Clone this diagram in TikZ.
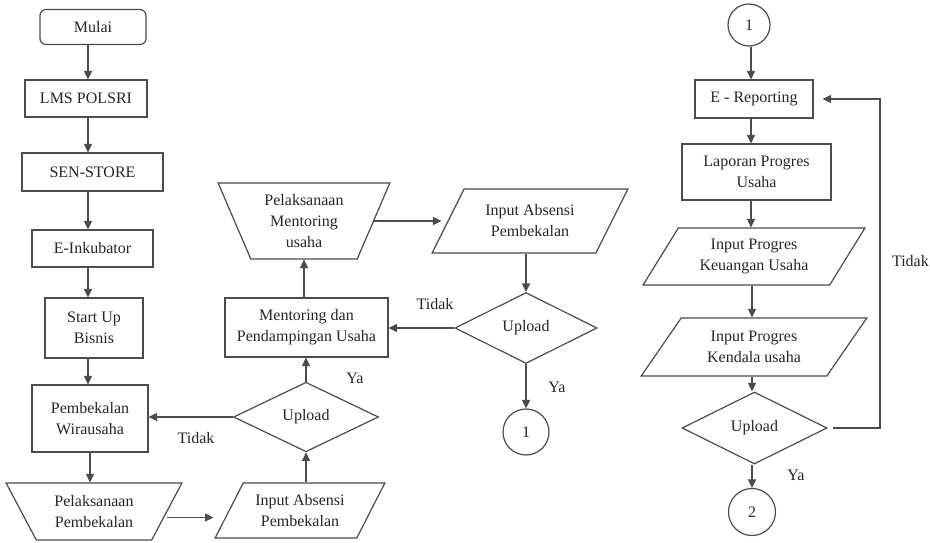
\documentclass[tikz,border=0pt]{standalone}
\usepackage{fontspec}
\setmainfont{Liberation Serif}
\usetikzlibrary{shapes.geometric,arrows.meta}
\begin{document}
\begin{tikzpicture}[x=1pt,y=-1pt,
 every node/.style={font=\fontsize{16}{21}\selectfont, text=black!85},
 base/.style={draw=black!70, line width=1.2pt, align=center, inner sep=2pt},
 box/.style={base, rectangle},
 trap/.style={base, trapezium, trapezium stretches=true},
 dia/.style={base, diamond},
 conn/.style={base, circle},
 arr/.style={draw=black!70, line width=1.2pt, -{Triangle[length=8.5pt,width=8pt]}}
]
\useasboundingbox[fill=white] (0,0) rectangle (930,543);

% left column
\node[box, rounded corners=6pt, minimum width=106pt, minimum height=35pt] (mulai) at (93,27) {Mulai};
\node[box, minimum width=122pt, minimum height=37pt] (lms) at (86,98.5) {LMS POLSRI};
\node[box, minimum width=141pt, minimum height=38pt] (sen) at (92.5,172) {SEN-STORE};
\node[box, minimum width=121pt, minimum height=37pt] (einc) at (92.5,248.5) {E-Inkubator};
\node[box, minimum width=98pt, minimum height=60pt] (startup) at (94,328) {Start Up\\Bisnis};
\node[box, minimum width=116pt, minimum height=67pt] (pemb) at (90,418.5) {Pembekalan\\Wirausaha};
\node[trap, trapezium left angle=121, trapezium right angle=121, minimum width=176pt, minimum height=57pt] (pelpemb) at (94,511.5) {Pelaksanaan\\Pembekalan};

% middle
\node[trap, trapezium left angle=57.5, trapezium right angle=122.5, minimum width=170pt, minimum height=55pt] (inpemb) at (300,510.5) {Input Absensi\\Pembekalan};
\node[dia, minimum width=145pt, minimum height=64pt] (updown) at (306,417) {Upload};
\node[box, minimum width=163pt, minimum height=59pt] (mentor) at (306.5,327.5) {Mentoring dan\\Pendampingan Usaha};
\node[trap, trapezium left angle=114, trapezium right angle=114, minimum width=172pt, minimum height=76pt] (pelment) at (304,221) {Pelaksanaan\\Mentoring\\usaha};
\node[trap, trapezium left angle=58, trapezium right angle=122, minimum width=196pt, minimum height=64pt] (inpup) at (530,221) {Input Absensi\\Pembekalan};
\node[dia, minimum width=142pt, minimum height=71pt] (upup) at (526,328) {Upload};
\node[conn, minimum size=46pt] (ca) at (526,432) {1};

% right column
\node[conn, minimum size=42pt] (cb) at (749,25) {1};
\node[box, minimum width=118pt, minimum height=38pt] (erep) at (754,99) {E - Reporting};
\node[box, minimum width=149pt, minimum height=56pt] (lap) at (756.5,172) {Laporan Progres\\Usaha};
\node[trap, trapezium left angle=56, trapezium right angle=124, minimum width=222pt, minimum height=57pt] (ink) at (754,256.5) {Input Progres\\Keuangan Usaha};
\node[trap, trapezium left angle=53, trapezium right angle=127, minimum width=226pt, minimum height=58pt] (ikk) at (754,347) {Input Progres\\Kendala usaha};
\node[dia, minimum width=145pt, minimum height=72pt] (updr) at (754.5,428) {Upload};
\node[conn, minimum size=47pt] (cc) at (752,512) {2};

% connectors left
\coordinate (colA) at (88,0);
\draw[arr] (mulai.south -| colA) -- (lms.north -| colA);
\draw[arr] (lms.south -| colA) -- (sen.north -| colA);
\draw[arr] (sen.south -| colA) -- (einc.north -| colA);
\draw[arr] (einc.south -| colA) -- (startup.north -| colA);
\draw[arr] (startup.south -| colA) -- (pemb.north -| colA);
\coordinate (colA2) at (90,0);
\draw[arr] (pemb.south -| colA2) -- (pelpemb.north -| colA2);
\draw[arr, shorten >=15pt] ([yshift=-6pt]pelpemb.east) -- ([yshift=-6pt]pelpemb.east -| inpemb.west);

% connectors middle
\draw[arr] (inpemb.north -| updown.south) -- (updown.south);
\draw[arr] (updown.west) -- (updown.west -| pemb.east);
\node (t1) at (196,438) {Tidak};
\draw[arr] (updown.north) -- (updown.north |- mentor.south);
\node (y1) at (355,378) {Ya};
\draw[arr] (mentor.north -| pelment.south) -- (pelment.south);
\draw[arr, shorten >=6pt] (pelment.east) -- (pelment.east -| inpup.west);
\draw[arr] (inpup.south -| upup.north) -- (upup.north);
\draw[arr] (upup.west) -- (upup.west -| mentor.east);
\node (t2) at (435,304) {Tidak};
\draw[arr] (upup.south) -- (ca.north);
\node (y2) at (557,387) {Ya};

% connectors right
\coordinate (colB) at (751,0);
\draw[arr] (cb.south -| colB) -- (erep.north -| colB);
\draw[arr] (erep.south -| colB) -- (lap.north -| colB);
\draw[arr] (lap.south -| colB) -- (ink.north -| colB);
\coordinate (colC) at (752,0);
\draw[arr] (ink.south -| colC) -- (ikk.north -| colC);
\draw[arr] (ikk.south -| colC) -- (updr.north -| colC);
\draw[arr] (updr.south -| colC) -- (cc.north -| colC);
\node (y3) at (796,475) {Ya};
\coordinate (fb) at (880,0);
\draw[arr, shorten >=9pt] ([xshift=5pt]updr.east) -- (updr.east -| fb) -- (erep.east -| fb) -- (erep.east);
\node[anchor=east, inner sep=0pt] (t3) at (929,261) {Tidak};
\end{tikzpicture}
\end{document}
